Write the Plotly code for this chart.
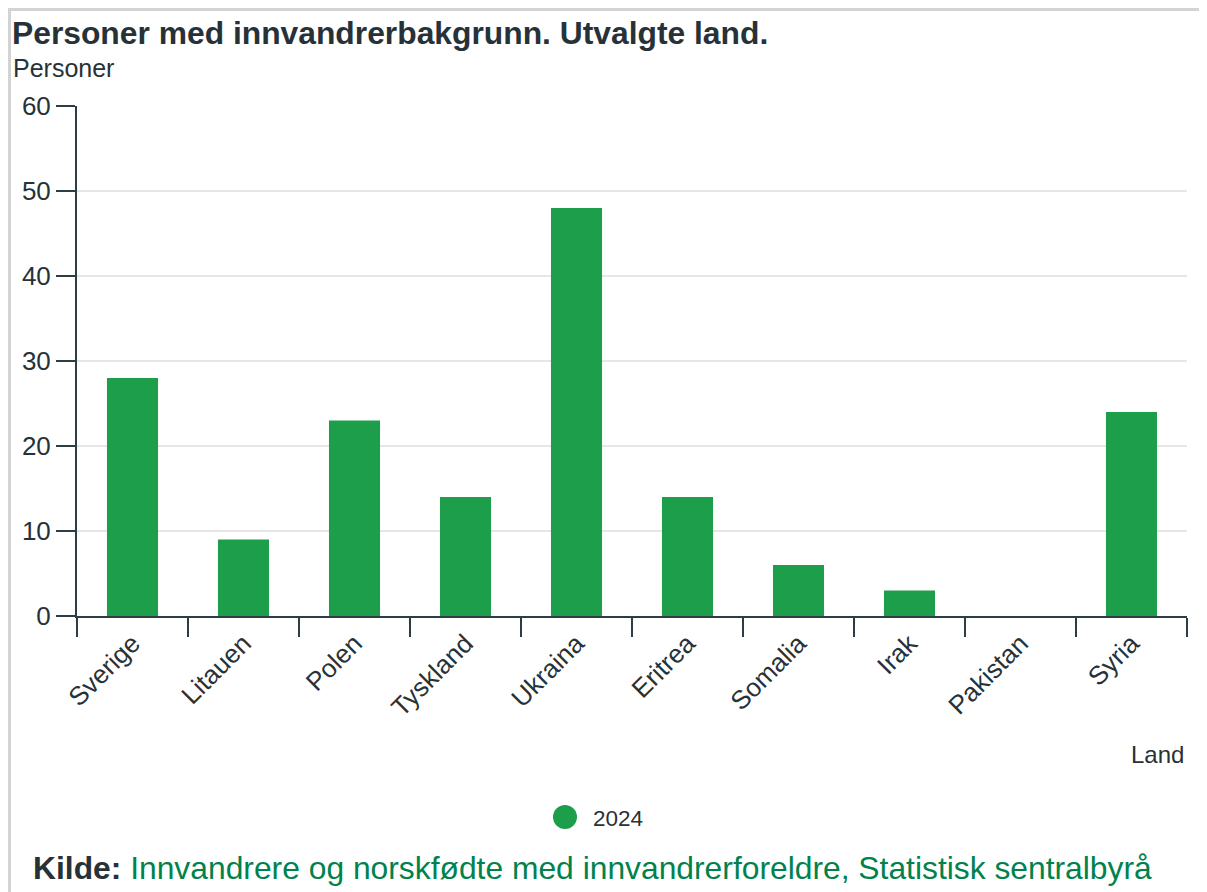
import plotly.graph_objects as go

land = ["Sverige", "Litauen", "Polen", "Tyskland", "Ukraina", "Eritrea",
        "Somalia", "Irak", "Pakistan", "Syria"]
personer_2024 = [28, 9, 23, 14, 48, 14, 6, 3, 0, 24]
serie_navn = "2024"
y_ticks = [0, 10, 20, 30, 40, 50, 60]

GREEN = "#1c9e4b"
TEXT = "#273238"
AXIS = "#2c3e44"
FONT = "Liberation Sans, Arial, sans-serif"

OFF = 8  # page body margin
W, H = 1207 - OFF, 892 - OFF
# plot area in reference page pixels
L, R, T, B = 77, 1187, 106, 616

def px(x):
    return (x - L) / (R - L)

def py(y):
    return (B - y) / (B - T)

fig = go.Figure()
fig.add_trace(go.Bar(x=land, y=personer_2024, marker_color=GREEN,
                     marker_line_width=0, showlegend=False, name=serie_navn))

fig.update_layout(
    width=W, height=H,
    margin=dict(l=L - OFF, r=(W + OFF) - R, t=T - OFF, b=(H + OFF) - B),
    paper_bgcolor="white", plot_bgcolor="white",
    font=dict(family=FONT, color=TEXT, size=24),
    bargap=0.54,
    showlegend=False,
    xaxis=dict(type="category", tickson="boundaries", ticks="outside", ticklen=19,
               tickwidth=2, tickcolor=AXIS, showline=True, linecolor=AXIS,
               linewidth=2, tickangle=-45, tickfont=dict(size=26, color=TEXT),
               showgrid=False),
    yaxis=dict(range=[0, 60], tickvals=y_ticks, ticks="outside", ticklen=19,
               tickwidth=2, tickcolor=AXIS, showline=True, linecolor=AXIS,
               linewidth=2, gridcolor="#e6e6e6", gridwidth=2, zeroline=False,
               tickfont=dict(size=26, color=TEXT)),
    shapes=[
        dict(type="rect", xref="paper", yref="paper",
             x0=px(9.5), x1=px(1205.5), y0=py(910), y1=py(OFF + 1.5),
             line=dict(color="#d3d3d3", width=3), layer="below"),
        dict(type="circle", xref="paper", yref="paper",
             x0=px(553), x1=px(577), y0=py(829), y1=py(805),
             fillcolor=GREEN, line=dict(width=0)),
    ],
    annotations=[
        dict(text="<b>Personer med innvandrerbakgrunn. Utvalgte land.</b>",
             xref="paper", yref="paper", x=px(9.5), y=py(33), xanchor="left",
             yanchor="middle", showarrow=False, font=dict(size=31.8, color=TEXT)),
        dict(text="Personer", xref="paper", yref="paper", x=px(11), y=py(68),
             xanchor="left", yanchor="middle", showarrow=False,
             font=dict(size=25, color=TEXT)),
        dict(text="Land", xref="paper", yref="paper", x=px(1186), y=py(754),
             xanchor="right", yanchor="middle", showarrow=False,
             font=dict(size=24, color=TEXT)),
        dict(text=serie_navn, xref="paper", yref="paper", x=px(591), y=py(818),
             xanchor="left", yanchor="middle", showarrow=False,
             font=dict(size=22.5, color=TEXT)),
        dict(text="<b>Kilde:</b> <span style='color:#00824d'>Innvandrere og norskfødte med innvandrerforeldre, Statistisk sentralbyrå</span>",
             xref="paper", yref="paper", x=px(30.5), y=py(868), xanchor="left",
             yanchor="middle", showarrow=False, font=dict(size=31.8, color=TEXT)),
    ],
)

fig.write_html("out.html")
